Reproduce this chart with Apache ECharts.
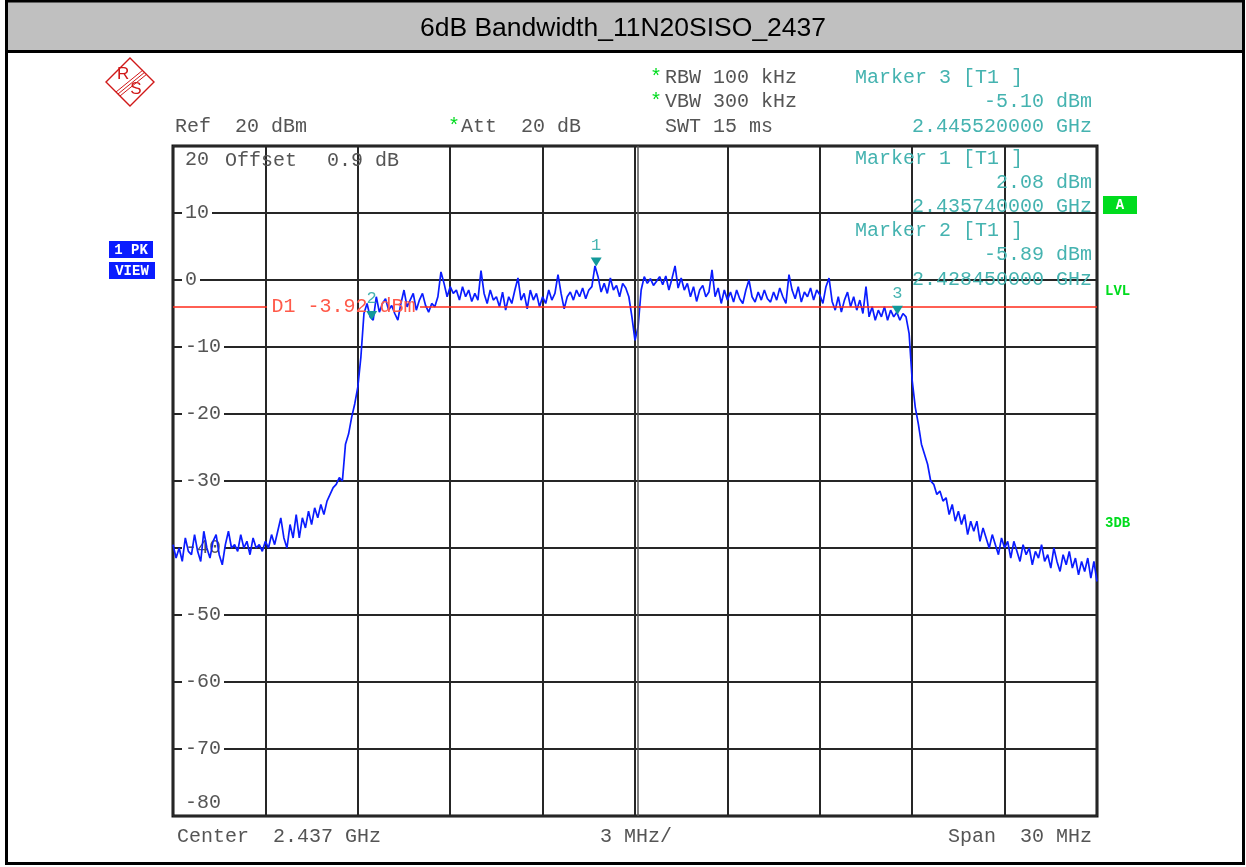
<!DOCTYPE html>
<html>
<head>
<meta charset="utf-8">
<script src="https://cdn.jsdelivr.net/npm/echarts@6/dist/echarts.min.js"></script>
<style>
  html, body { margin: 0; padding: 0; background: #fff; }
  #chart { width: 1246px; height: 867px; }
</style>
</head>
<body>
<div id="chart"></div>
<script>
// trace levels (dBm), one every 0.1 MHz from 2.422 GHz to 2.452 GHz
const levels = [
  -39.5, -41.5, -40, -42, -38.5, -40.5, -41, -38, -40.5, -42,
  -37.5, -40, -41.5, -39, -38, -41, -42.5, -39.5, -37.5, -40,
  -39.5, -40.5, -38, -40, -39, -41, -38.5, -40, -39.5, -40.5,
  -39, -40, -38, -39.5, -37.5, -35.5, -38.5, -40, -36.5, -38.5,
  -35, -38.5, -35.5, -37, -34.5, -36.5, -34, -35.5, -33.5, -35,
  -33, -32, -31, -30.5, -29.5, -30, -24.5, -23, -20.5, -18.5,
  -16, -11.5, -5, -3.5, -5.5, -6, -2.5, -4.8, -3.5, -2.8,
  -4.5, -3.8, -5, -6, -3.5, -1.5, -4, -3, -2, -4.5,
  -3, -2, -3.8, -4.8, -3.5, -4, -2.5, 1.2, -0.5, -2.5,
  -1, -2, -1.5, -3, -1, -2.5, -1.5, -3.2, -2, -3,
  1.4, -2, -3.5, -1.5, -3, -2.5, -4, -1.8, -4.5, -2.5,
  -3.5, -1.5, 0.3, -3, -2, -4.3, -1.5, -3, -2, -4,
  -2.5, -3.5, -1.5, -3, -2, 0.8, -2, -4.3, -2.5, -1.8,
  -3, -1.5, -2.5, -1.2, -2.8, -1.5, -1, 2.1, 0.5, -1.8,
  -0.5, -2, 0.3, -1.5, -0.8, -2.5, -0.5, -1.2, -2.5, -5.5,
  -9, -7, -1.5, 0.5, -0.5, 0.2, -0.8, -0.2, 0.5, -0.7,
  0.6, -1.5, 0.2, 2.1, -1.2, 0.3, -1.5, -0.5, -2.5, -1,
  -3.2, -1.5, -0.8, -2.5, -1.8, 1.5, -2.5, -1.2, -3.5, -1.5,
  -3, -1.8, -3.3, -1.5, -2.8, -3.5, -1.5, 0, -2.5, -3.3,
  -1.8, -3, -1.5, -2.8, -3.3, -1.8, -3, -1.2, -2.5, -3.5,
  0.8, -1.5, -2.8, -1, -3.3, -1.8, -2.5, -1.2, -3, -1.5,
  -2.2, -3.5, -1, 0.3, -3.2, -4.5, -2.5, -4.8, -3, -1.8,
  -4, -2.5, -4.5, -3, -5, -1, -5.5, -4, -6, -4.5,
  -5.5, -4, -6, -4.5, -5.5, -4.8, -6, -5, -5.5, -8,
  -15, -19, -21.5, -24.5, -26, -27.5, -30, -30.5, -32, -31.5,
  -33, -32.5, -35, -33.5, -36, -34.5, -36.5, -35, -38, -36,
  -37.5, -36, -39, -37, -38.5, -40, -38, -39.5, -41, -38.5,
  -40, -39, -41.5, -39, -40.5, -42, -39.5, -41, -40, -42.5,
  -40.5, -41.5, -39.5, -42, -41, -43, -40, -42, -43.5, -41,
  -42.5, -40.5, -43, -41.5, -44, -42, -43.5, -41.5, -44.5, -42,
  -45
];

const centerGHz = 2.437;
const startMHz = -15;   // offset from center
const stepMHz = 0.1;

// markers
const markerNames = ['1', '2', '3'];
const markerFreqGHz = [2.43574, 2.42845, 2.44552];
const markerLevels = [2.08, -5.89, -5.10];

// display line D1
const d1Level = -3.92;

const trace = levels.map((v, i) => [startMHz + i * stepMHz, v]);
const markerOffsets = markerFreqGHz.map(f => (f - centerGHz) * 1000);

const mono = '"Liberation Mono", "DejaVu Sans Mono", monospace';
const grey = '#555';
const teal = '#45b3b0';
const green = '#00dc1e';

function txt(x, y, text, fill, opts) {
  opts = opts || {};
  return {
    type: 'text', x: x, y: y, z: 50,
    style: {
      text: text, fill: fill,
      font: (opts.weight || 'normal') + ' ' + (opts.size || 20) + 'px ' + (opts.family || mono),
      align: opts.align || 'left', verticalAlign: 'middle'
    }
  };
}

const chart = echarts.init(document.getElementById('chart'));

chart.setOption({
  animation: false,
  backgroundColor: '#fff',
  title: {
    text: '6dB Bandwidth_11N20SISO_2437',
    left: 'center', top: 10,
    textStyle: { fontFamily: '"Liberation Sans", Arial, sans-serif', fontSize: 26.5, fontWeight: 'normal', color: '#000' }
  },
  grid: {
    left: 173, top: 146, width: 924, height: 670,
    show: true, borderColor: '#111', borderWidth: 3, backgroundColor: 'transparent'
  },
  xAxis: {
    type: 'value', min: -15, max: 15, interval: 3,
    axisLine: { show: false }, axisTick: { show: false }, axisLabel: { show: false },
    splitLine: { show: true, lineStyle: { color: '#262626', width: 2 } }
  },
  yAxis: {
    type: 'value', min: -80, max: 20, interval: 10,
    axisLine: { show: false }, axisTick: { show: false },
    splitLine: { show: true, lineStyle: { color: '#262626', width: 2 } },
    axisLabel: {
      inside: true, margin: 9, showMinLabel: true, showMaxLabel: true,
      formatter: v => v === 20 ? '{top|20}' : (v === -80 ? '{bot|-80}' : '{n|' + v + '}'),
      rich: {
        n: { fontFamily: mono, fontSize: 20, color: grey, backgroundColor: '#fff', padding: [0, 3, 0, 3] },
        top: { fontFamily: mono, fontSize: 20, color: grey, padding: [28, 3, 0, 3] },
        bot: { fontFamily: mono, fontSize: 20, color: grey, padding: [0, 3, 26, 3] }
      }
    },
    z: 3
  },
  series: [{
    type: 'line',
    data: trace,
    showSymbol: false,
    lineStyle: { color: '#0a1cff', width: 1.7 },
    z: 4,
    markLine: {
      silent: true, symbol: 'none', animation: false,
      label: { show: false },
      data: [
        [{ coord: [startMHz, d1Level], lineStyle: { color: '#ff2a1a', width: 1.6, type: 'solid' } }, { coord: [-11.95, d1Level] }],
        [{ coord: [-6.98, d1Level], lineStyle: { color: '#ff2a1a', width: 1.6, type: 'solid' } }, { coord: [15, d1Level] }],
        [{
          coord: [-11.95, d1Level], lineStyle: { color: 'rgba(255,255,255,0)', width: 1 },
          label: { show: true, position: 'middle', distance: 0, verticalAlign: 'middle', formatter: 'D1 -3.92 dBm', color: '#ff5a4a', fontFamily: mono, fontSize: 20 }
        }, { coord: [-6.98, d1Level] }],
        [{ coord: [0.09, -80], lineStyle: { color: '#555', width: 1.5, type: 'solid' } }, { coord: [0.09, 20] }]
      ]
    },
    markPoint: {
      silent: true, animation: false,
      symbol: 'triangle', symbolRotate: 180, symbolSize: [11, 9], symbolOffset: [0, -4],
      itemStyle: { color: '#13999a' },
      label: { show: true, position: 'top', distance: 4, formatter: '{b}', color: teal, fontFamily: mono, fontSize: 17 },
      data: markerNames.map((n, i) => ({ name: n, coord: [markerOffsets[i], markerLevels[i]] }))
    }
  }],
  graphic: [
    // frame and title bar
    { type: 'rect', z: 0, shape: { x: 6.5, y: 1.5, width: 1236, height: 49 }, style: { fill: '#c0c0c0', stroke: null } },
    { type: 'rect', z: 60, shape: { x: 6.5, y: 1, width: 1237, height: 862.5 }, style: { fill: 'none', stroke: '#000', lineWidth: 3 } },
    { type: 'line', z: 60, shape: { x1: 6, y1: 51.5, x2: 1244, y2: 51.5 }, style: { stroke: '#000', lineWidth: 3 } },

    // R&S logo
    { type: 'polygon', shape: { points: [[130, 58], [154, 82], [130, 106], [106, 82]] }, style: { fill: 'none', stroke: '#d01818', lineWidth: 1.4 } },
    { type: 'line', shape: { x1: 116, y1: 92, x2: 143, y2: 70 }, style: { stroke: '#d01818', lineWidth: 1 } },
    { type: 'line', shape: { x1: 118, y1: 94, x2: 145, y2: 72 }, style: { stroke: '#d01818', lineWidth: 1 } },
    { type: 'line', shape: { x1: 120, y1: 96, x2: 147, y2: 74 }, style: { stroke: '#d01818', lineWidth: 1 } },
    txt(117, 74, 'R', '#d01818', { size: 17, family: '"Liberation Sans", sans-serif' }),
    txt(136, 89, 'S', '#d01818', { size: 17, family: '"Liberation Sans", sans-serif', align: 'center' }),

    // trace info boxes
    { type: 'rect', shape: { x: 109, y: 241, width: 44, height: 17 }, style: { fill: '#0a1cff' } },
    txt(131, 250, '1 PK', '#fff', { size: 14, weight: 'bold', align: 'center' }),
    { type: 'rect', shape: { x: 109, y: 262, width: 46, height: 17 }, style: { fill: '#0a1cff' } },
    txt(132, 271, 'VIEW', '#fff', { size: 14, weight: 'bold', align: 'center' }),

    // header texts
    txt(175, 127, 'Ref  20 dBm', grey),
    txt(448, 127, '*', green),
    txt(461, 127, 'Att  20 dB', grey),
    txt(650, 78, '*', green),
    txt(665, 78, 'RBW 100 kHz', grey),
    txt(650, 102, '*', green),
    txt(665, 102, 'VBW 300 kHz', grey),
    txt(665, 127, 'SWT 15 ms', grey),
    txt(855, 78, 'Marker 3 [T1 ]', teal),
    txt(1092, 102, '-5.10 dBm', teal, { align: 'right' }),
    txt(1092, 127, '2.445520000 GHz', teal, { align: 'right' }),
    txt(855, 159, 'Marker 1 [T1 ]', teal),
    txt(1092, 183, '2.08 dBm', teal, { align: 'right' }),
    txt(1092, 207, '2.435740000 GHz', teal, { align: 'right' }),
    txt(855, 231, 'Marker 2 [T1 ]', teal),
    txt(1092, 255, '-5.89 dBm', teal, { align: 'right' }),
    txt(1092, 280, '2.428450000 GHz', teal, { align: 'right' }),
    txt(225, 161, 'Offset', grey),
    txt(327, 161, '0.9 dB', grey),

    // right side annotations
    { type: 'rect', shape: { x: 1103, y: 196, width: 34, height: 18 }, style: { fill: green } },
    txt(1120, 205.5, 'A', '#fff', { size: 14, weight: 'bold', align: 'center' }),
    txt(1105, 291, 'LVL', green, { size: 14, weight: 'bold' }),
    txt(1105, 523, '3DB', green, { size: 14, weight: 'bold' }),

    // footer
    txt(177, 837, 'Center  2.437 GHz', grey),
    txt(600, 837, '3 MHz/', grey),
    txt(1092, 837, 'Span  30 MHz', grey, { align: 'right' })
  ]
});
</script>
</body>
</html>
